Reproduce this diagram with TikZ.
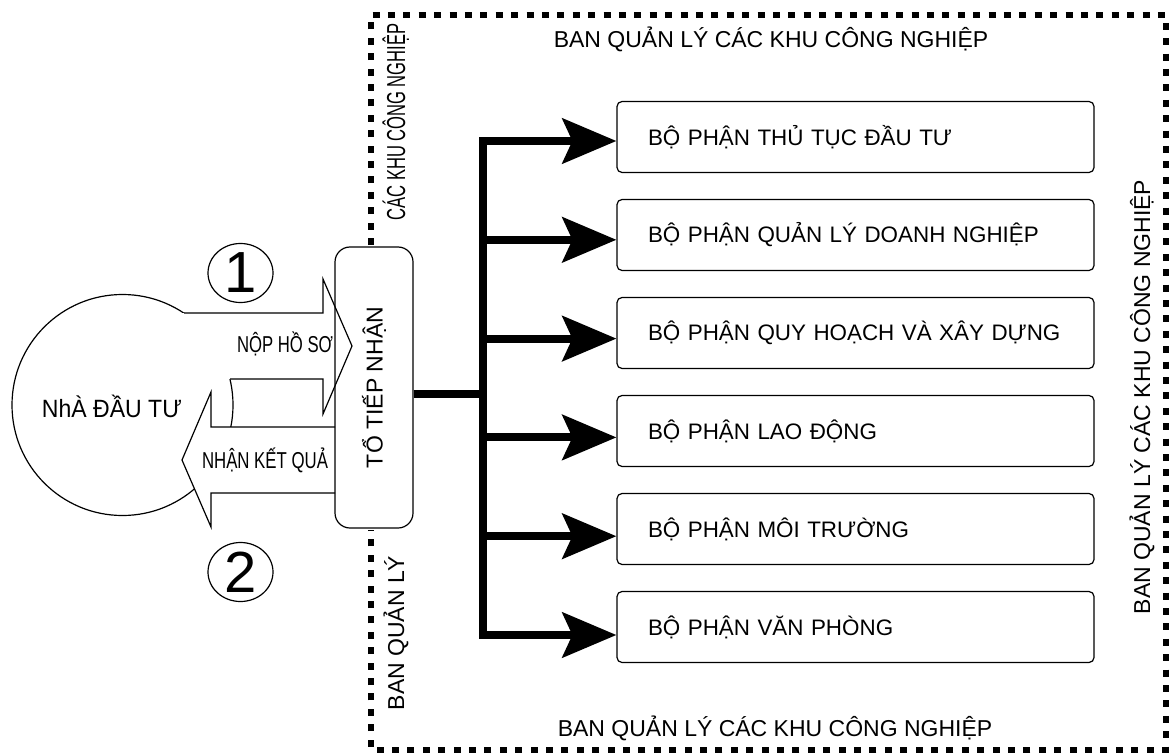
\documentclass[tikz,border=0pt]{standalone}
\usepackage{fontspec}
\setmainfont{Liberation Sans}
\usepackage{graphicx}
\usetikzlibrary{arrows.meta,shapes.geometric}

\begin{document}
\begin{tikzpicture}[x=0.5pt,y=-0.5pt,
  every node/.style={font=\fontsize{11.5}{13}\selectfont},
  bpbox/.style={draw,line width=0.6pt,rounded corners=2.5pt,minimum height=35.5pt,
    text width=207.5pt,inner xsep=15.5pt,inner ysep=0pt,align=left,font=\fontsize{11.2}{13}\selectfont},
  bus/.style={line width=4pt},
  busarrow/.style={line width=4pt,-{Stealth[length=27pt,width=22.5pt,inset=5pt]}},
  bigarrow/.style={line width=0.6pt,line join=miter},
  numcircle/.style={draw,ellipse,line width=0.6pt,minimum width=32.5pt,minimum height=29.5pt,
    inner sep=0pt,font=\fontsize{29}{30}\selectfont},
  frame/.style={line width=3pt,dash pattern=on 3.5pt off 4.2pt}]
  \useasboundingbox (0,0) rectangle (1171,754);

  % Dotted frame, open where the reception desk sits
  \draw[frame] (371,245) -- (371,15.5) -- (1166,15.5) -- (1166,749.5) -- (371,749.5) -- (371,530);
  \node[anchor=base] (topl) at (771,48) {BAN QUẢN LÝ CÁC KHU CÔNG NGHIỆP};
  \node[anchor=base] (botl) at (775,736) {BAN QUẢN LÝ CÁC KHU CÔNG NGHIỆP};
  \node[anchor=base,rotate=90] (rightl) at (1150,397) {BAN QUẢN LÝ CÁC KHU CÔNG NGHIỆP};
  \node[anchor=base,rotate=90,font=\fontsize{13}{14}\selectfont] (leftt) at (405,122)
    {\resizebox{98.5pt}{\height}{CÁC KHU CÔNG NGHIỆP}};
  \node[anchor=base,rotate=90] (leftb) at (404,633) {BAN QUẢN LÝ};

  % Investor
  \node[draw,circle,line width=0.6pt,minimum size=110.5pt,inner sep=0pt] (inv) at (122.5,405) {};
  \node[anchor=base,font=\fontsize{12.5}{14}\selectfont] (invt) at (112,417)
    {\resizebox{70pt}{\height}{NhÀ ĐẦU TƯ}};

  % Hollow arrows in and out
  \fill[white] (150,313) -- (323,313) -- (323,279) -- (352,346) -- (323,414) -- (323,379) -- (150,379) -- cycle;
  \draw[bigarrow] (184,313) -- (323,313) -- (323,279) -- (352,346) -- (323,414) -- (323,379) -- (230,379);
  \fill[white] (335,427) -- (211,427) -- (211,392) -- (182,460) -- (211,527) -- (211,493) -- (335,493) -- cycle;
  \draw[bigarrow] (335,427) -- (211,427) -- (211,392) -- (182,460) -- (211,527) -- (211,493) -- (335,493);
  \node[anchor=base] (nop) at (285,352) {\resizebox{48pt}{\height}{NỘP HỒ SƠ}};
  \node[anchor=base] (nhan) at (265,468) {\resizebox{63pt}{\height}{NHẬN KẾT QUẢ}};
  \node[numcircle] (n1) at (240.5,273) {1};
  \node[numcircle] (n2) at (240.5,572) {2};

  % Reception desk
  \node[draw,rounded corners=7.5pt,line width=0.6pt,minimum width=39pt,minimum height=140.5pt,
    inner sep=0pt] (to) at (374,387.5) {\rotatebox{90}{TỔ TIẾP NHẬN}};

  % Departments
  \foreach \t [count=\i] in {BỘ PHẬN THỦ TỤC ĐẦU TƯ, BỘ PHẬN QUẢN LÝ DOANH NGHIỆP,
      BỘ PHẬN QUY HOẠCH VÀ XÂY DỰNG, BỘ PHẬN LAO ĐỘNG, BỘ PHẬN MÔI TRƯỜNG, BỘ PHẬN VĂN PHÒNG}
    \node[bpbox] (bp\i) at (855.5,{137+98*(\i-1)}) {\mbox{\t}};

  % Distribution bus
  \foreach \i in {1,...,6}
    \coordinate (b\i) at (483,{141+98.8*(\i-1)});
  \coordinate (tj) at (483,393.5);
  \draw[bus,line cap=rect] (b1) -- (b6);
  \draw[bus] (to.east |- tj) -- (tj);
  \foreach \i in {1,...,6}
    \draw[busarrow] (b\i) -- (b\i -| bp\i.west);
\end{tikzpicture}
\end{document}
